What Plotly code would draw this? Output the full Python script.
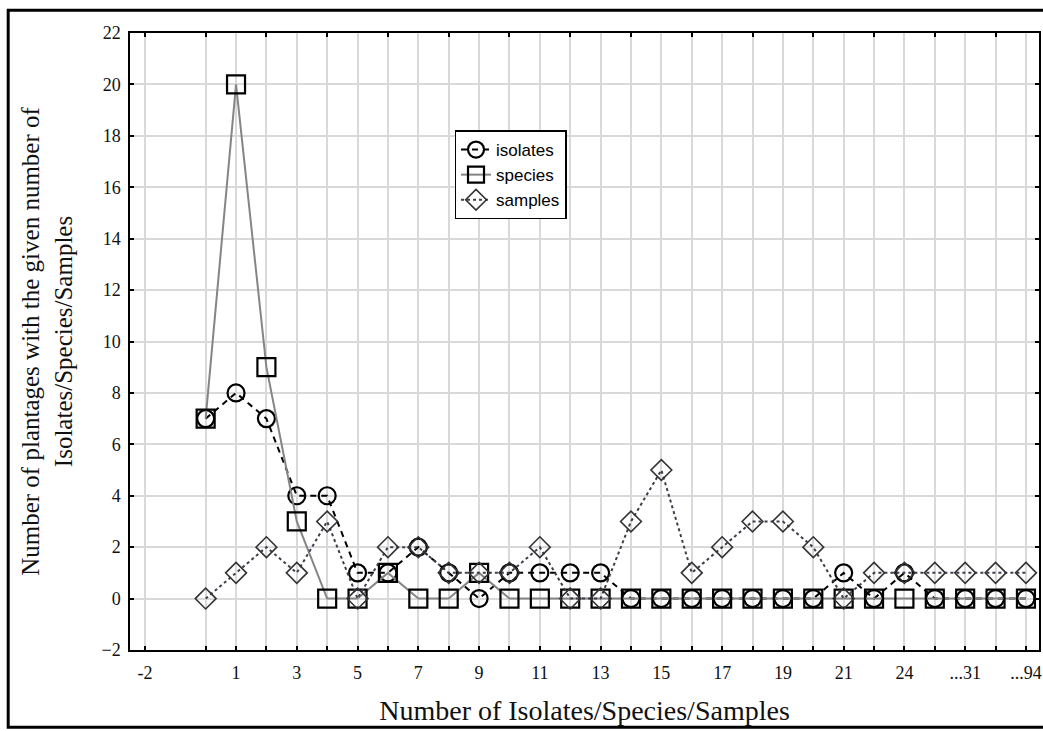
import plotly.graph_objects as go

# positions along the x axis (category index)
positions = list(range(28))
isolates = [7, 8, 7, 4, 4, 1, 1, 2, 1, 0, 1, 1, 1, 1, 0, 0, 0, 0, 0, 0, 0, 1, 0, 1, 0, 0, 0, 0]
species = [7, 20, 9, 3, 0, 0, 1, 0, 0, 1, 0, 0, 0, 0, 0, 0, 0, 0, 0, 0, 0, 0, 0, 0, 0, 0, 0, 0]
samples = [0, 1, 2, 1, 3, 0, 2, 2, 1, 1, 1, 2, 0, 0, 3, 5, 1, 2, 3, 3, 2, 0, 1, 1, 1, 1, 1, 1]

tick_vals = [-2] + list(range(28))
tick_text = ["-2", "", "1", "", "3", "", "5", "", "7", "", "9", "", "11", "", "13", "",
             "15", "", "17", "", "19", "", "21", "", "24", "", "...31", "", "...94"]
y_ticks = list(range(-2, 23, 2))

serif = "Liberation Serif, Times New Roman, serif"
sans = "Liberation Sans, Arial, sans-serif"

fig = go.Figure()
fig.add_trace(go.Scatter(
    x=positions, y=isolates, name="isolates", mode="lines+markers",
    line=dict(color="black", width=2, dash="6px,5px"),
    marker=dict(symbol="circle-open", size=17, color="black", line=dict(width=2.2)),
))
fig.add_trace(go.Scatter(
    x=positions, y=species, name="species", mode="lines+markers",
    line=dict(color="#858585", width=2),
    marker=dict(symbol="square-open", size=18, color="black", line=dict(width=2.2)),
))
fig.add_trace(go.Scatter(
    x=positions, y=samples, name="samples", mode="lines+markers",
    line=dict(color="#3c3f4a", width=2, dash="dot"),
    marker=dict(symbol="diamond-open", size=16, color="#333333", line=dict(width=1.6)),
))
# top axis ticks (even positions)
fig.add_trace(go.Scatter(x=[None], y=[None], xaxis="x2", showlegend=False, hoverinfo="skip"))

fig.update_layout(
    width=1043, height=731,
    margin=dict(l=130, r=2, t=33, b=81),
    paper_bgcolor="white", plot_bgcolor="white",
    showlegend=True,
    legend=dict(x=0.357, y=0.842, xanchor="left", yanchor="top",
                bgcolor="white", bordercolor="black", borderwidth=1.5,
                font=dict(family=sans, size=17, color="black"),
                tracegroupgap=0, itemwidth=30),
    xaxis=dict(range=[-2.49, 27.43], tickmode="array", tickvals=tick_vals, ticktext=tick_text,
               showgrid=True, gridcolor="#d9d9d9", gridwidth=1.5, zeroline=False,
               showline=True, linecolor="black", linewidth=1.5, mirror=True,
               ticks="inside", ticklen=4, tickcolor="black", tickwidth=1.5,
               ticklabelstandoff=6,
               tickfont=dict(family=serif, size=18, color="#111"),
               title=dict(text="Number of Isolates/Species/Samples",
                          font=dict(family=serif, size=28, color="#111"), standoff=18)),
    xaxis2=dict(overlaying="x", side="top", range=[-2.49, 27.43], tickmode="array",
                tickvals=[-2] + list(range(0, 28, 2)), showticklabels=False,
                showgrid=False, zeroline=False, ticks="inside", ticklen=4,
                tickcolor="black", tickwidth=1.5),
    yaxis=dict(range=[-2, 22], tickmode="array", tickvals=y_ticks,
               showgrid=True, gridcolor="#d9d9d9", gridwidth=1.5, zeroline=False,
               showline=True, linecolor="black", linewidth=1.5, mirror="ticks",
               ticks="inside", ticklen=4, tickcolor="black", tickwidth=1.5,
               ticklabelstandoff=4,
               tickfont=dict(family=serif, size=18, color="#111"),
               title=dict(text="Number of plantages with the given number of<br>Isolates/Species/Samples",
                          font=dict(family=serif, size=25, color="#111"), standoff=22)),
    shapes=[dict(type="rect", xref="paper", yref="paper",
                 x0=-0.134, x1=1.02, y0=-0.125, y1=1.037,
                 line=dict(color="black", width=3), fillcolor="rgba(0,0,0,0)", layer="above")],
)

fig.write_html("out.html", config={"displayModeBar": False},
               post_script="document.body.style.margin='0';document.body.style.overflow='hidden';")
